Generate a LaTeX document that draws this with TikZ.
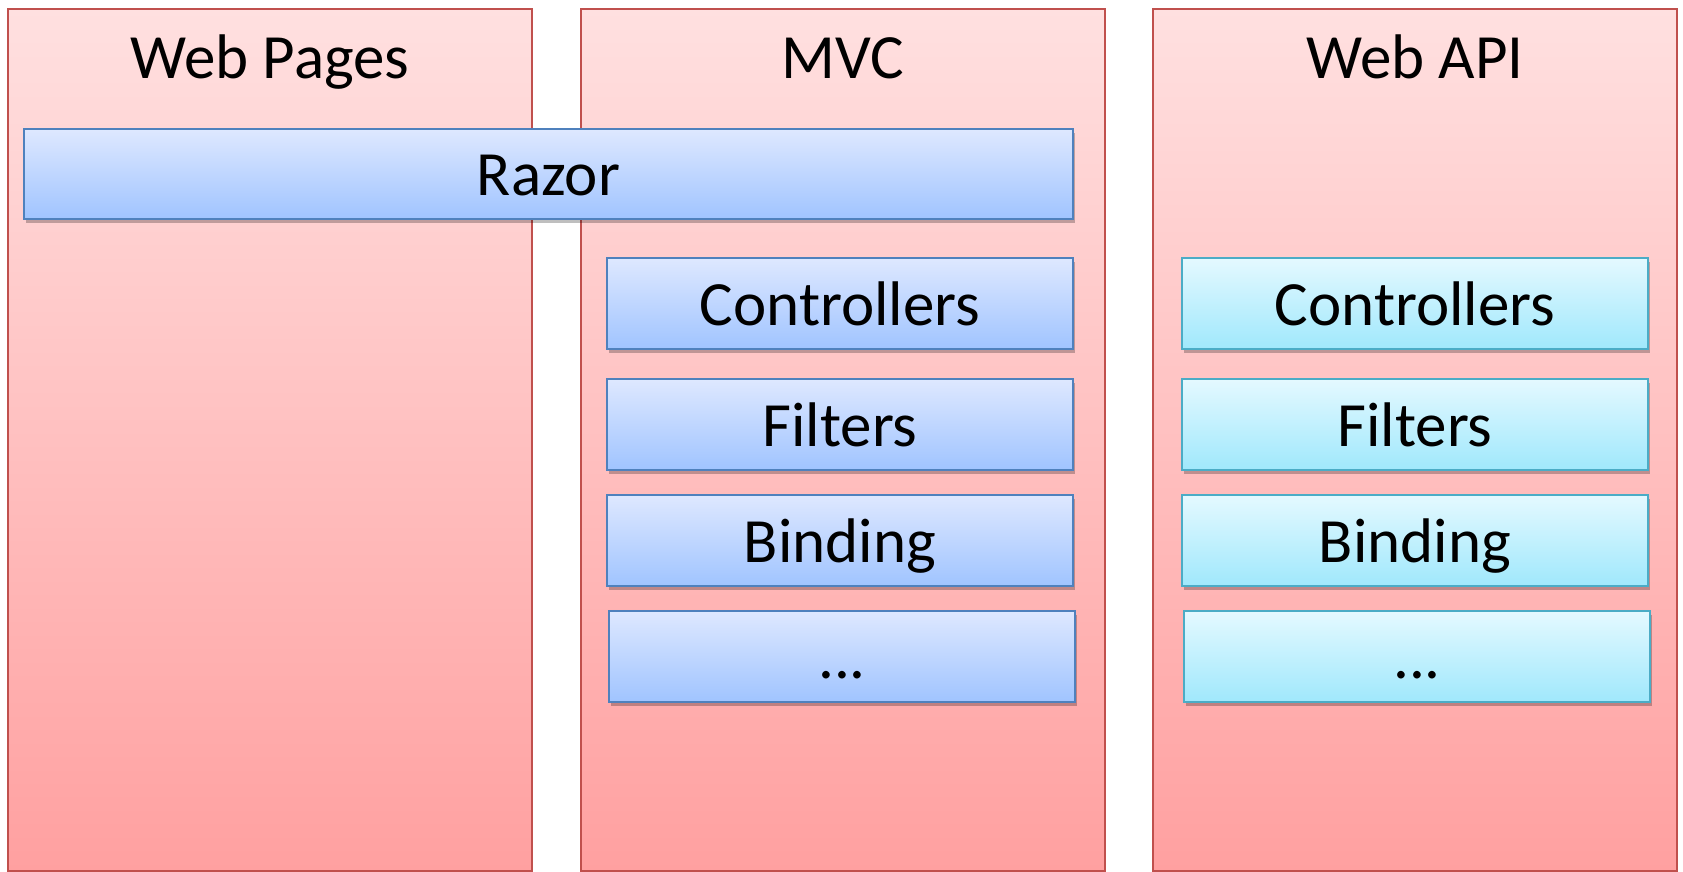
\documentclass[tikz,border=0pt]{standalone}
\usepackage{fontspec}
\setmainfont{Carlito}
\usetikzlibrary{shadows}

\definecolor{colline}{RGB}{192,80,77}
\definecolor{coltop}{RGB}{255,224,224}
\definecolor{colbot}{RGB}{255,160,160}
\definecolor{mvcline}{RGB}{79,129,189}
\definecolor{mvctop}{RGB}{222,232,255}
\definecolor{mvcbot}{RGB}{160,196,255}
\definecolor{apiline}{RGB}{75,172,198}
\definecolor{apitop}{RGB}{228,249,255}
\definecolor{apibot}{RGB}{160,232,252}

\tikzset{
	bigtext/.style={font=\fontsize{63}{70}\selectfont},
	column/.style={draw=colline, line width=2pt, top color=coltop, bottom color=colbot,
		minimum width=524pt, minimum height=862pt, inner sep=0pt},
	mvcbox/.style={draw=mvcline, line width=2pt, top color=mvctop, bottom color=mvcbot,
		minimum width=466pt, minimum height=91pt, inner sep=0pt, bigtext,
		text height=45pt, text depth=2pt,
		drop shadow={shadow xshift=2pt, shadow yshift=-4pt, opacity=0.25, fill=black}},
	apibox/.style={mvcbox, draw=apiline, top color=apitop, bottom color=apibot}
}

\begin{document}
\begin{tikzpicture}[x=1pt, y=-1pt]
			\useasboundingbox (0,0) rectangle (1683,872);
			
			%Three columns
			\node[column] (pagescol) at (270,440) {};
			\node[column] (mvccol) at (842.5,440) {};
			\node[column] (apicol) at (1415,440) {};
			
			\node[bigtext, anchor=base] (pagestitle) at (270,79) {Web Pages};
			\node[bigtext, anchor=base] (mvctitle) at (842.5,79) {MVC};
			\node[bigtext, anchor=base] (apititle) at (1415,79) {Web API};
			
			%Razor spans Web Pages and MVC
			\node[mvcbox, minimum width=1049pt, minimum height=90pt] (razor) at (548.5,174) {Razor};
			
			%MVC stack
			\def\x{840}
			\node[mvcbox] (mvcctrl) at (\x,303.5) {Controllers};
			\node[mvcbox] (mvcfilt) at (\x,424.5) {Filters};
			\node[mvcbox] (mvcbind) at (\x,540.5) {Binding};
			\node[mvcbox] (mvcmore) at (\x+2,656.5) {...};
			
			%Web API stack
			\def\x{1415}
			\node[apibox] (apictrl) at (\x,303.5) {Controllers};
			\node[apibox] (apifilt) at (\x,424.5) {Filters};
			\node[apibox] (apibind) at (\x,540.5) {Binding};
			\node[apibox] (apimore) at (\x+2,656.5) {...};
		\end{tikzpicture}
\end{document}
